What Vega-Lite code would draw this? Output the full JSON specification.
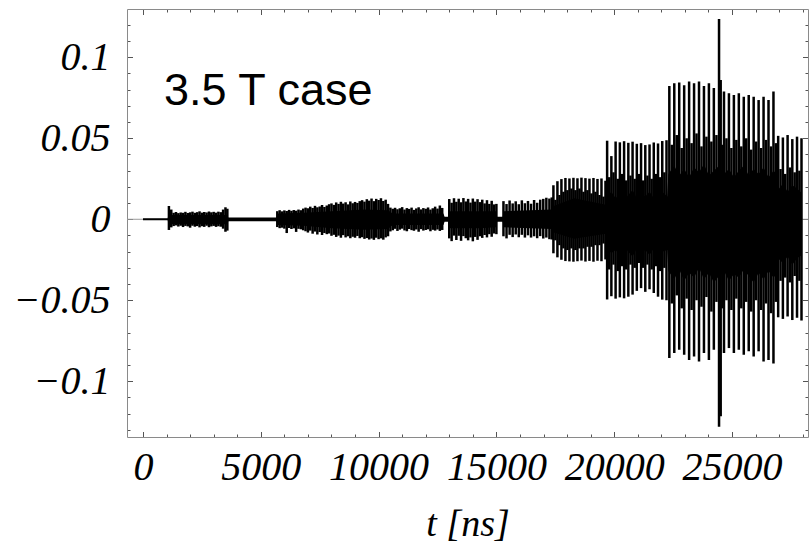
{
"$schema": "https://vega.github.io/schema/vega-lite/v6.json",
"width": 681, "height": 428,
"autosize": {"type": "none"},
"padding": {"left": 127, "top": 9, "right": 3, "bottom": 110},
"background": "white",
"config": {"view": {"stroke": null}},
"datasets": {
"core": [
{"t":0,"ch":0.0006,"cl":-0.0006},{"t":1050,"ch":0.0006,"cl":-0.0006},{"t":1080,"ch":0.0026,"cl":-0.003},{"t":3580,"ch":0.0026,"cl":-0.003},
{"t":3620,"ch":0.0011,"cl":-0.0012},{"t":5680,"ch":0.0011,"cl":-0.0012},{"t":5720,"ch":0.0035,"cl":-0.0035},{"t":6800,"ch":0.004,"cl":-0.004},
{"t":8000,"ch":0.005,"cl":-0.0055},{"t":9400,"ch":0.006,"cl":-0.0065},{"t":10400,"ch":0.0055,"cl":-0.006},{"t":10600,"ch":0.0035,"cl":-0.0035},
{"t":12750,"ch":0.0035,"cl":-0.0035},{"t":12800,"ch":0.0015,"cl":-0.0015},{"t":12950,"ch":0.0015,"cl":-0.0015},{"t":13000,"ch":0.005,"cl":-0.0055},
{"t":14300,"ch":0.005,"cl":-0.0055},{"t":15000,"ch":0.005,"cl":-0.005},{"t":15030,"ch":0.0015,"cl":-0.0015},{"t":15270,"ch":0.0015,"cl":-0.0015},
{"t":15300,"ch":0.005,"cl":-0.005},{"t":17350,"ch":0.006,"cl":-0.006},{"t":17400,"ch":0.008,"cl":-0.008},{"t":18300,"ch":0.013,"cl":-0.012},
{"t":19650,"ch":0.009,"cl":-0.009},
{"t":19700,"ch":0.014,"cl":-0.018},{"t":19880,"ch":0.017,"cl":-0.021},{"t":20060,"ch":0.013,"cl":-0.019},{"t":20240,"ch":0.016,"cl":-0.022},
{"t":20420,"ch":0.012,"cl":-0.017},{"t":20600,"ch":0.015,"cl":-0.02},{"t":20780,"ch":0.018,"cl":-0.023},{"t":20960,"ch":0.013,"cl":-0.018},
{"t":21140,"ch":0.016,"cl":-0.021},{"t":21320,"ch":0.014,"cl":-0.019},{"t":21500,"ch":0.017,"cl":-0.022},{"t":21680,"ch":0.013,"cl":-0.018},
{"t":21860,"ch":0.015,"cl":-0.021},{"t":22040,"ch":0.017,"cl":-0.02},{"t":22250,"ch":0.014,"cl":-0.019},
{"t":22300,"ch":0.028,"cl":-0.032},{"t":22550,"ch":0.033,"cl":-0.037},{"t":22760,"ch":0.027,"cl":-0.031},{"t":22970,"ch":0.031,"cl":-0.038},
{"t":23180,"ch":0.026,"cl":-0.033},{"t":23390,"ch":0.032,"cl":-0.036},{"t":23600,"ch":0.029,"cl":-0.03},{"t":23810,"ch":0.034,"cl":-0.037},
{"t":24020,"ch":0.027,"cl":-0.033},{"t":24230,"ch":0.03,"cl":-0.039},{"t":24450,"ch":0.033,"cl":-0.035},{"t":24660,"ch":0.028,"cl":-0.032},
{"t":24870,"ch":0.031,"cl":-0.038},{"t":25080,"ch":0.026,"cl":-0.034},{"t":25290,"ch":0.03,"cl":-0.036},{"t":25500,"ch":0.033,"cl":-0.031},
{"t":25710,"ch":0.027,"cl":-0.035},{"t":25920,"ch":0.031,"cl":-0.039},{"t":26130,"ch":0.028,"cl":-0.033},{"t":26340,"ch":0.032,"cl":-0.037},
{"t":26550,"ch":0.026,"cl":-0.032},{"t":26760,"ch":0.03,"cl":-0.036},{"t":26900,"ch":0.028,"cl":-0.034},
{"t":26950,"ch":0.018,"cl":-0.024},{"t":27160,"ch":0.022,"cl":-0.027},{"t":27360,"ch":0.017,"cl":-0.023},{"t":27560,"ch":0.021,"cl":-0.028},
{"t":27760,"ch":0.019,"cl":-0.024},{"t":27970,"ch":0.016,"cl":-0.022}
],
"strokes": [
{"t":1100,"hi":0.0082,"lo":-0.0066},{"t":1200,"hi":0.006,"lo":-0.005},{"t":1300,"hi":0.004,"lo":-0.0042},{"t":1400,"hi":0.0045,"lo":-0.0038},
{"t":1500,"hi":0.0038,"lo":-0.0045},{"t":1600,"hi":0.0042,"lo":-0.004},{"t":1700,"hi":0.004,"lo":-0.0048},{"t":1800,"hi":0.0046,"lo":-0.0041},
{"t":1900,"hi":0.0039,"lo":-0.0044},{"t":2000,"hi":0.0043,"lo":-0.0052},{"t":2100,"hi":0.0047,"lo":-0.004},{"t":2200,"hi":0.004,"lo":-0.0046},
{"t":2300,"hi":0.0044,"lo":-0.0042},{"t":2400,"hi":0.0049,"lo":-0.005},{"t":2500,"hi":0.0041,"lo":-0.0043},{"t":2600,"hi":0.0045,"lo":-0.0047},
{"t":2700,"hi":0.0042,"lo":-0.004},{"t":2800,"hi":0.0048,"lo":-0.0049},{"t":2900,"hi":0.0043,"lo":-0.0044},{"t":3000,"hi":0.0046,"lo":-0.0041},
{"t":3100,"hi":0.0041,"lo":-0.0047},{"t":3200,"hi":0.0047,"lo":-0.0043},{"t":3300,"hi":0.0044,"lo":-0.0046},{"t":3400,"hi":0.006,"lo":-0.0058},
{"t":3500,"hi":0.0074,"lo":-0.0077},{"t":3580,"hi":0.0065,"lo":-0.007},
{"t":5700,"hi":0.005,"lo":-0.0048},{"t":5800,"hi":0.0056,"lo":-0.0055},{"t":5900,"hi":0.0049,"lo":-0.0052},{"t":6000,"hi":0.0055,"lo":-0.0058},
{"t":6100,"hi":0.0051,"lo":-0.0085},{"t":6200,"hi":0.0058,"lo":-0.0054},{"t":6300,"hi":0.0052,"lo":-0.006},{"t":6400,"hi":0.0057,"lo":-0.0056},
{"t":6500,"hi":0.0053,"lo":-0.0078},{"t":6600,"hi":0.006,"lo":-0.0059},{"t":6700,"hi":0.0056,"lo":-0.0062},{"t":6800,"hi":0.0066,"lo":-0.0068},
{"t":6900,"hi":0.0072,"lo":-0.0074},{"t":7000,"hi":0.0068,"lo":-0.0082},{"t":7100,"hi":0.0078,"lo":-0.007},{"t":7200,"hi":0.007,"lo":-0.0089},
{"t":7300,"hi":0.0083,"lo":-0.0076},{"t":7400,"hi":0.0074,"lo":-0.0094},{"t":7500,"hi":0.0079,"lo":-0.0079},{"t":7600,"hi":0.0088,"lo":-0.0097},
{"t":7700,"hi":0.0076,"lo":-0.0085},{"t":7800,"hi":0.0085,"lo":-0.0092},{"t":7900,"hi":0.0093,"lo":-0.0088},{"t":8000,"hi":0.0098,"lo":-0.0102},
{"t":8100,"hi":0.0089,"lo":-0.0096},{"t":8200,"hi":0.0104,"lo":-0.0109},{"t":8300,"hi":0.0095,"lo":-0.0101},{"t":8400,"hi":0.0108,"lo":-0.0114},
{"t":8500,"hi":0.0097,"lo":-0.0098},{"t":8600,"hi":0.0105,"lo":-0.0112},{"t":8700,"hi":0.0092,"lo":-0.0105},{"t":8800,"hi":0.011,"lo":-0.0117},
{"t":8900,"hi":0.0099,"lo":-0.0108},{"t":9000,"hi":0.0107,"lo":-0.0114},{"t":9100,"hi":0.0101,"lo":-0.0103},{"t":9200,"hi":0.0112,"lo":-0.0117},
{"t":9300,"hi":0.0118,"lo":-0.0111},{"t":9400,"hi":0.0109,"lo":-0.0121},{"t":9500,"hi":0.0124,"lo":-0.0116},{"t":9600,"hi":0.0115,"lo":-0.0125},
{"t":9700,"hi":0.0128,"lo":-0.0119},{"t":9800,"hi":0.0112,"lo":-0.0127},{"t":9900,"hi":0.0126,"lo":-0.0114},{"t":10000,"hi":0.0119,"lo":-0.0123},
{"t":10100,"hi":0.013,"lo":-0.0118},{"t":10200,"hi":0.0113,"lo":-0.0126},{"t":10300,"hi":0.0121,"lo":-0.0112},{"t":10400,"hi":0.0095,"lo":-0.0105},
{"t":10500,"hi":0.0072,"lo":-0.0075},{"t":10600,"hi":0.0065,"lo":-0.0068},{"t":10700,"hi":0.0071,"lo":-0.0059},{"t":10800,"hi":0.0062,"lo":-0.0072},
{"t":10900,"hi":0.0068,"lo":-0.0064},{"t":11000,"hi":0.0075,"lo":-0.0058},{"t":11100,"hi":0.006,"lo":-0.0069},{"t":11200,"hi":0.0069,"lo":-0.0074},
{"t":11300,"hi":0.0064,"lo":-0.006},{"t":11400,"hi":0.0072,"lo":-0.0067},{"t":11500,"hi":0.0058,"lo":-0.0071},{"t":11600,"hi":0.0067,"lo":-0.0063},
{"t":11700,"hi":0.0074,"lo":-0.0077},{"t":11800,"hi":0.0061,"lo":-0.0061},{"t":11900,"hi":0.0069,"lo":-0.007},{"t":12000,"hi":0.0065,"lo":-0.0066},
{"t":12100,"hi":0.0073,"lo":-0.0062},{"t":12200,"hi":0.006,"lo":-0.0074},{"t":12300,"hi":0.0068,"lo":-0.0065},{"t":12400,"hi":0.0078,"lo":-0.007},
{"t":12500,"hi":0.0066,"lo":-0.0063},{"t":12600,"hi":0.0085,"lo":-0.0072},{"t":12700,"hi":0.007,"lo":-0.0066},
{"t":13000,"hi":0.0125,"lo":-0.0118},{"t":13100,"hi":0.0102,"lo":-0.0135},{"t":13200,"hi":0.013,"lo":-0.0101},{"t":13300,"hi":0.0108,"lo":-0.0128},
{"t":13400,"hi":0.0127,"lo":-0.0102},{"t":13500,"hi":0.0105,"lo":-0.0133},{"t":13600,"hi":0.0131,"lo":-0.0104},{"t":13700,"hi":0.011,"lo":-0.0117},
{"t":13800,"hi":0.0126,"lo":-0.013},{"t":13900,"hi":0.0103,"lo":-0.0112},{"t":14000,"hi":0.0128,"lo":-0.0136},{"t":14100,"hi":0.0109,"lo":-0.0109},
{"t":14200,"hi":0.0124,"lo":-0.0127},{"t":14300,"hi":0.0106,"lo":-0.0105},{"t":14400,"hi":0.0121,"lo":-0.0115},{"t":14500,"hi":0.0098,"lo":-0.0097},
{"t":14600,"hi":0.0118,"lo":-0.0112},{"t":14700,"hi":0.0095,"lo":-0.0092},{"t":14800,"hi":0.0114,"lo":-0.0108},{"t":14900,"hi":0.0092,"lo":-0.0088},
{"t":15000,"hi":0.0095,"lo":-0.0092},
{"t":15300,"hi":0.0112,"lo":-0.0105},{"t":15430,"hi":0.0094,"lo":-0.0118},{"t":15560,"hi":0.0116,"lo":-0.0096},{"t":15690,"hi":0.0098,"lo":-0.011},
{"t":15820,"hi":0.0111,"lo":-0.0094},{"t":15950,"hi":0.0093,"lo":-0.0111},{"t":16080,"hi":0.0117,"lo":-0.0096},{"t":16210,"hi":0.0099,"lo":-0.0113},
{"t":16340,"hi":0.0113,"lo":-0.0099},{"t":16470,"hi":0.0096,"lo":-0.0113},{"t":16600,"hi":0.0119,"lo":-0.0105},{"t":16730,"hi":0.0102,"lo":-0.0117},
{"t":16860,"hi":0.0121,"lo":-0.0104},{"t":16990,"hi":0.0126,"lo":-0.0119},{"t":17120,"hi":0.0133,"lo":-0.0113},{"t":17250,"hi":0.0128,"lo":-0.0123},
{"t":17350,"hi":0.0135,"lo":-0.0125},
{"t":17420,"hi":0.021,"lo":-0.021},{"t":17590,"hi":0.0235,"lo":-0.0235},{"t":17760,"hi":0.0248,"lo":-0.025},{"t":17930,"hi":0.0255,"lo":-0.0258},
{"t":18100,"hi":0.0252,"lo":-0.026},{"t":18270,"hi":0.0256,"lo":-0.0262},{"t":18440,"hi":0.0253,"lo":-0.0259},{"t":18610,"hi":0.0257,"lo":-0.0255},
{"t":18780,"hi":0.0254,"lo":-0.0261},{"t":18950,"hi":0.0251,"lo":-0.0257},{"t":19120,"hi":0.0255,"lo":-0.0262},{"t":19290,"hi":0.0249,"lo":-0.0256},
{"t":19460,"hi":0.0252,"lo":-0.0259},{"t":19630,"hi":0.0238,"lo":-0.0248},
{"t":17505,"hi":0.012,"lo":-0.013},{"t":17675,"hi":0.015,"lo":-0.016},{"t":17845,"hi":0.017,"lo":-0.018},{"t":18015,"hi":0.018,"lo":-0.019},
{"t":18185,"hi":0.019,"lo":-0.018},{"t":18355,"hi":0.018,"lo":-0.019},{"t":18525,"hi":0.019,"lo":-0.018},{"t":18695,"hi":0.017,"lo":-0.018},
{"t":18865,"hi":0.018,"lo":-0.017},{"t":19035,"hi":0.016,"lo":-0.017},{"t":19205,"hi":0.017,"lo":-0.016},{"t":19375,"hi":0.015,"lo":-0.016},
{"t":19545,"hi":0.014,"lo":-0.015},
{"t":19700,"hi":0.0485,"lo":-0.0495},{"t":19880,"hi":0.039,"lo":-0.0475},{"t":20060,"hi":0.048,"lo":-0.049},{"t":20240,"hi":0.0475,"lo":-0.0482},
{"t":20420,"hi":0.0482,"lo":-0.0488},{"t":20600,"hi":0.0472,"lo":-0.0478},{"t":20780,"hi":0.0479,"lo":-0.0465},{"t":20960,"hi":0.0466,"lo":-0.0442},
{"t":21140,"hi":0.047,"lo":-0.0425},{"t":21320,"hi":0.0458,"lo":-0.0448},{"t":21500,"hi":0.0462,"lo":-0.0432},{"t":21680,"hi":0.0474,"lo":-0.0455},
{"t":21860,"hi":0.0468,"lo":-0.0478},{"t":22040,"hi":0.0483,"lo":-0.0496},{"t":22220,"hi":0.0488,"lo":-0.05},
{"t":19790,"hi":0.026,"lo":-0.031},{"t":19970,"hi":0.029,"lo":-0.028},{"t":20150,"hi":0.025,"lo":-0.032},{"t":20330,"hi":0.028,"lo":-0.029},
{"t":20510,"hi":0.024,"lo":-0.031},{"t":20690,"hi":0.027,"lo":-0.028},{"t":20870,"hi":0.025,"lo":-0.03},{"t":21050,"hi":0.028,"lo":-0.027},
{"t":21230,"hi":0.024,"lo":-0.03},{"t":21410,"hi":0.027,"lo":-0.028},{"t":21590,"hi":0.025,"lo":-0.031},{"t":21770,"hi":0.028,"lo":-0.029},
{"t":21950,"hi":0.026,"lo":-0.032},{"t":22130,"hi":0.029,"lo":-0.03},
{"t":22340,"hi":0.0823,"lo":-0.0857},{"t":22550,"hi":0.084,"lo":-0.0826},{"t":22760,"hi":0.0845,"lo":-0.0805},{"t":22970,"hi":0.0828,"lo":-0.0836},
{"t":23180,"hi":0.085,"lo":-0.0868},{"t":23390,"hi":0.084,"lo":-0.0847},{"t":23600,"hi":0.085,"lo":-0.0878},{"t":23810,"hi":0.0823,"lo":-0.0826},
{"t":24020,"hi":0.084,"lo":-0.0868},{"t":24230,"hi":0.081,"lo":-0.0805},{"t":24450,"hi":0.1237,"lo":-0.128},{"t":24520,"hi":0.086,"lo":-0.1216},
{"t":24660,"hi":0.0788,"lo":-0.0826},{"t":24870,"hi":0.0778,"lo":-0.0795},{"t":25080,"hi":0.0767,"lo":-0.0826},{"t":25290,"hi":0.0778,"lo":-0.0805},
{"t":25500,"hi":0.0757,"lo":-0.0836},{"t":25710,"hi":0.0767,"lo":-0.0815},{"t":25920,"hi":0.0757,"lo":-0.0847},{"t":26130,"hi":0.0736,"lo":-0.0815},
{"t":26340,"hi":0.0757,"lo":-0.0878},{"t":26550,"hi":0.0736,"lo":-0.0868},{"t":26760,"hi":0.0788,"lo":-0.089},
{"t":22445,"hi":0.046,"lo":-0.052},{"t":22655,"hi":0.052,"lo":-0.047},{"t":22865,"hi":0.044,"lo":-0.055},{"t":23075,"hi":0.05,"lo":-0.049},
{"t":23285,"hi":0.047,"lo":-0.056},{"t":23495,"hi":0.053,"lo":-0.05},{"t":23705,"hi":0.045,"lo":-0.054},{"t":23915,"hi":0.051,"lo":-0.048},
{"t":24125,"hi":0.048,"lo":-0.057},{"t":24340,"hi":0.052,"lo":-0.051},{"t":24590,"hi":0.046,"lo":-0.055},{"t":24765,"hi":0.05,"lo":-0.05},
{"t":24975,"hi":0.044,"lo":-0.056},{"t":25185,"hi":0.049,"lo":-0.049},{"t":25395,"hi":0.045,"lo":-0.055},{"t":25605,"hi":0.05,"lo":-0.051},
{"t":25815,"hi":0.043,"lo":-0.057},{"t":26025,"hi":0.048,"lo":-0.05},{"t":26235,"hi":0.044,"lo":-0.056},{"t":26445,"hi":0.049,"lo":-0.052},
{"t":26655,"hi":0.045,"lo":-0.058},{"t":26860,"hi":0.047,"lo":-0.051},
{"t":26960,"hi":0.0515,"lo":-0.0605},{"t":27160,"hi":0.0505,"lo":-0.0615},{"t":27360,"hi":0.052,"lo":-0.06},{"t":27560,"hi":0.0495,"lo":-0.0622},
{"t":27760,"hi":0.051,"lo":-0.0608},{"t":27950,"hi":0.05,"lo":-0.0625},
{"t":27060,"hi":0.031,"lo":-0.038},{"t":27260,"hi":0.028,"lo":-0.036},{"t":27460,"hi":0.032,"lo":-0.039},{"t":27660,"hi":0.029,"lo":-0.035},
{"t":27860,"hi":0.03,"lo":-0.038}
]
},
"layer": [
{"data": {"values": [{}]}, "mark": {"type": "rule", "color": "#9a9a9a", "strokeWidth": 1},
 "encoding": {"y": {"datum": 0, "type": "quantitative", "scale": {"domain": [-0.1344, 0.1298], "nice": false, "zero": false}, "axis": null}}},
{"data": {"name": "core"}, "mark": {"type": "area", "color": "black", "opacity": 1},
 "encoding": {
  "x": {"field": "t", "type": "quantitative", "scale": {"domain": [-679, 28226], "nice": false, "zero": false}, "axis": null},
  "y": {"field": "ch", "type": "quantitative", "scale": {"domain": [-0.1344, 0.1298], "nice": false, "zero": false}, "axis": null},
  "y2": {"field": "cl"}}},
{"data": {"name": "strokes"}, "mark": {"type": "rule", "color": "black", "strokeWidth": 2.5},
 "encoding": {
  "x": {"field": "t", "type": "quantitative", "scale": {"domain": [-679, 28226], "nice": false, "zero": false},
   "axis": {"orient": "bottom", "values": [0,1000,2000,3000,4000,5000,6000,7000,8000,9000,10000,11000,12000,13000,14000,15000,16000,17000,18000,19000,20000,21000,22000,23000,24000,25000,26000,27000,28000],
    "title": "t [ns]", "titleFont": "Liberation Serif", "titleFontStyle": "italic", "titleFontWeight": "normal", "titleFontSize": 38, "titleColor": "black", "titlePadding": 15,
    "labelExpr": "datum.value % 5000 === 0 ? format(datum.value, 'd') : ''",
    "labelFont": "Liberation Serif", "labelFontStyle": "italic", "labelFontSize": 40, "labelColor": "black", "labelPadding": 16,
    "labelFlush": false, "labelOverlap": false, "labelBound": false, "grid": false,
    "tickSize": {"condition": {"test": "datum.value % 5000 === 0", "value": -5.5}, "value": -3},
    "tickColor": "#555", "tickWidth": 1, "domainColor": "#8a8a8a", "domainWidth": 1}},
  "y": {"field": "hi", "type": "quantitative", "scale": {"domain": [-0.1344, 0.1298], "nice": false, "zero": false},
   "axis": {"orient": "left", "values": [-0.13,-0.12,-0.11,-0.1,-0.09,-0.08,-0.07,-0.06,-0.05,-0.04,-0.03,-0.02,-0.01,0,0.01,0.02,0.03,0.04,0.05,0.06,0.07,0.08,0.09,0.1,0.11,0.12],
    "title": null,
    "labelExpr": "abs(round(datum.value*100)) % 5 === 0 ? format(datum.value, '~g') : ''",
    "labelFont": "Liberation Serif", "labelFontStyle": "italic", "labelFontSize": 40, "labelColor": "black", "labelPadding": 22.5,
    "labelFlush": false, "labelOverlap": false, "labelBound": false, "grid": false,
    "tickSize": {"condition": {"test": "abs(round(datum.value*100)) % 5 === 0", "value": -5.5}, "value": -3},
    "tickColor": "#555", "tickWidth": 1, "domainColor": "#8a8a8a", "domainWidth": 1}},
  "y2": {"field": "lo"}}},
{"data": {"values": [{}]}, "mark": {"type": "text", "text": "3.5 T case", "font": "Liberation Sans", "fontSize": 45, "align": "left", "baseline": "alphabetic", "color": "black"},
 "encoding": {
  "x": {"datum": 891, "type": "quantitative", "scale": {"domain": [-679, 28226], "nice": false, "zero": false}, "axis": null},
  "y": {"datum": 0.0706, "type": "quantitative", "scale": {"domain": [-0.1344, 0.1298], "nice": false, "zero": false}, "axis": null}}},
{"data": {"values": [{}]}, "mark": {"type": "point", "opacity": 0},
 "encoding": {
  "x": {"datum": 0, "type": "quantitative", "scale": {"domain": [-679, 28226], "nice": false, "zero": false},
   "axis": {"orient": "top", "values": [0,1000,2000,3000,4000,5000,6000,7000,8000,9000,10000,11000,12000,13000,14000,15000,16000,17000,18000,19000,20000,21000,22000,23000,24000,25000,26000,27000,28000],
    "title": null, "labels": false, "grid": false,
    "tickSize": {"condition": {"test": "datum.value % 5000 === 0", "value": -5.5}, "value": -3},
    "tickColor": "#555", "tickWidth": 1, "domainColor": "#8a8a8a", "domainWidth": 1}},
  "y": {"datum": 0, "type": "quantitative", "scale": {"domain": [-0.1344, 0.1298], "nice": false, "zero": false},
   "axis": {"orient": "right", "values": [-0.13,-0.12,-0.11,-0.1,-0.09,-0.08,-0.07,-0.06,-0.05,-0.04,-0.03,-0.02,-0.01,0,0.01,0.02,0.03,0.04,0.05,0.06,0.07,0.08,0.09,0.1,0.11,0.12],
    "title": null, "labels": false, "grid": false,
    "tickSize": {"condition": {"test": "abs(round(datum.value*100)) % 5 === 0", "value": -5.5}, "value": -3},
    "tickColor": "#555", "tickWidth": 1, "domainColor": "#8a8a8a", "domainWidth": 1}}}}
],
"resolve": {"axis": {"x": "independent", "y": "independent"}}
}
